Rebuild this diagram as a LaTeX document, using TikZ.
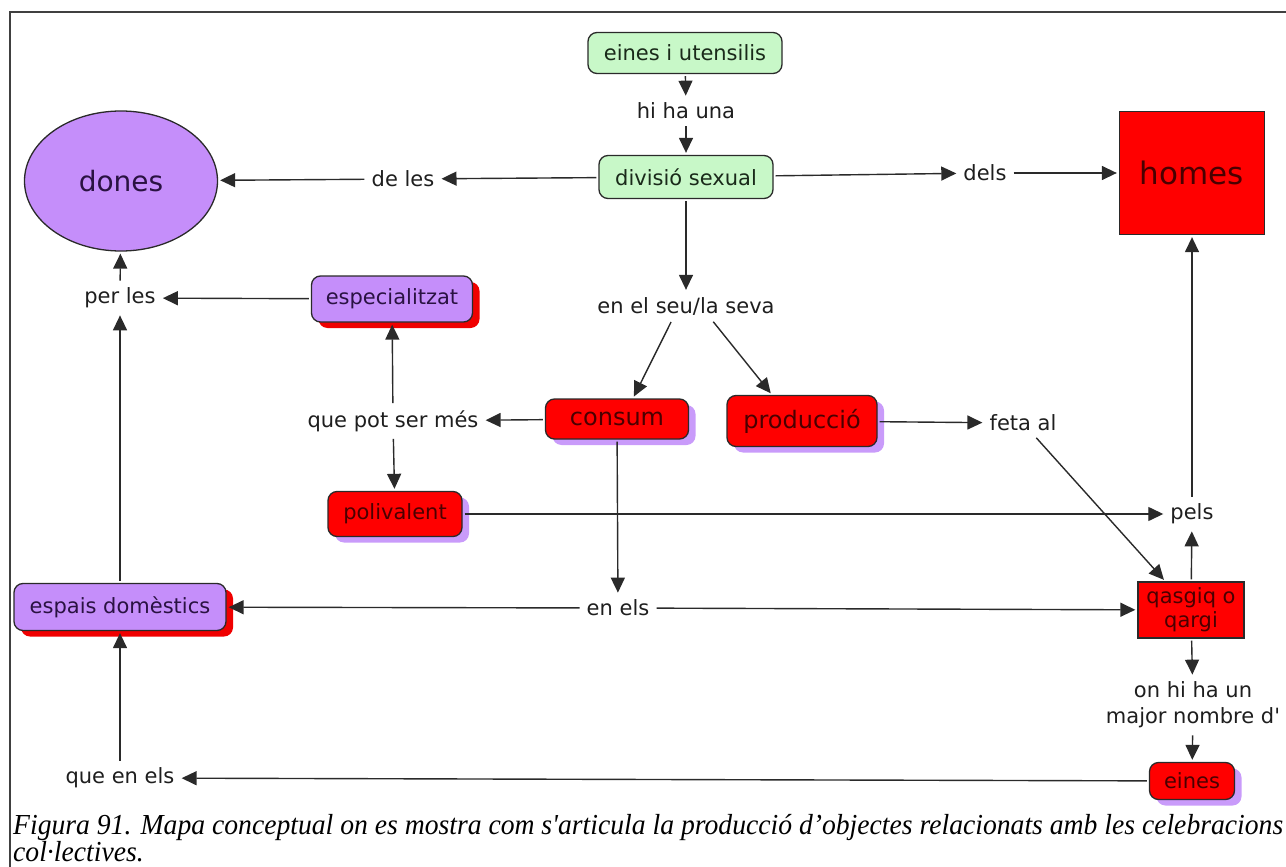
\documentclass[tikz,border=0pt]{standalone}
\usepackage{fontspec}
\setmainfont{DejaVu Sans}
\newfontfamily\capfont{Liberation Serif}
\usetikzlibrary{arrows.meta,shapes.geometric,shadows}

\definecolor{mapgreen}{HTML}{C8F8C8}
\definecolor{mappurple}{HTML}{C58EFA}
\definecolor{mapred}{HTML}{FF0000}
\definecolor{shpurple}{HTML}{C99BFA}
\definecolor{shred}{HTML}{F00000}
\definecolor{edgecol}{HTML}{2A2A2A}
\definecolor{redtext}{HTML}{4A0000}
\definecolor{purpletext}{HTML}{2A1242}
\definecolor{greentext}{HTML}{1A2A1A}
\definecolor{lbltext}{HTML}{1E1E1E}

\newsavebox{\capbox}
\newcommand{\capstyle}{\capfont\itshape\fontsize{29}{29}\selectfont}

\begin{document}
\sbox{\capbox}{\capstyle Figura 91. Mapa conceptual on es mostra com s\textquotesingle articula la producció d’objectes relacionats amb les celebracions}%
\pgfmathsetmacro{\capscale}{1270/\wd\capbox}%
\begin{tikzpicture}[x=1pt,y=-1pt,
  basefont/.style={font=\fontsize{21}{25}\selectfont},
  concept/.style={basefont, draw=edgecol, line width=1.3pt, inner sep=2pt},
  greenbox/.style={concept, rounded corners=9pt, fill=mapgreen, text=greentext},
  purplebox/.style={concept, rounded corners=9pt, fill=mappurple, text=purpletext,
    drop shadow={shadow xshift=7pt, shadow yshift=-6pt, fill=shred, opacity=1}},
  redbox/.style={concept, rounded corners=9pt, fill=mapred, text=redtext,
    drop shadow={shadow xshift=7pt, shadow yshift=-6pt, fill=shpurple, opacity=1}},
  redrect/.style={concept, fill=mapred, text=redtext},
  lbl/.style={basefont, text=lbltext, inner sep=5pt, align=center},
  arr/.style={draw=edgecol, line width=1.4pt, -{Triangle[length=15pt,width=14pt]}, shorten >=2pt, shorten <=2pt}
]
\useasboundingbox (0,0) rectangle (1286,867);

% page frame
\draw[line width=2pt, black!75] (10,867) -- (10,12) -- (1286,12);

% concepts
\node[greenbox, minimum width=194pt, minimum height=41pt] (eu) at (685,53) {eines i utensilis};
\node[greenbox, minimum width=174pt, minimum height=43pt] (dv) at (686,177) {divisió sexual};
\node[ellipse, draw=edgecol, line width=1.3pt, fill=mappurple, text=purpletext,
      minimum width=193pt, minimum height=140pt, font=\fontsize{28}{32}\selectfont] (dn) at (121,181) {dones};
\node[redrect, minimum width=145pt, minimum height=123pt, font=\fontsize{31}{35}\selectfont] (hm) at (1192,173) {homes};
\node[redbox, minimum width=143pt, minimum height=40pt, font=\fontsize{24}{28}\selectfont] (cs) at (617,419) {consum};
\node[redbox, minimum width=150pt, minimum height=51pt, font=\fontsize{24}{28}\selectfont] (pr) at (802,421) {producció};
\node[purplebox, minimum width=161pt, minimum height=46pt] (sp) at (392,299) {especialitzat};
\node[redbox, minimum width=134pt, minimum height=45pt] (pv) at (395,514) {polivalent};
\node[purplebox, minimum width=212pt, minimum height=47pt] (ed) at (120,607) {espais domèstics};
\node[redrect, minimum width=106pt, minimum height=56pt, align=center,
      font=\fontsize{21}{24}\selectfont] (qq) at (1191,610) {qasgiq o\\qargi};
\node[redbox, minimum width=85pt, minimum height=37pt] (ei) at (1192,781) {eines};

% linking phrases
\node[lbl] (hh) at (686,111) {hi ha una};
\node[lbl] (dl) at (403,179) {de les};
\node[lbl] (ds) at (985,173) {dels};
\node[lbl] (sv) at (686,306) {en el seu/la seva};
\node[lbl] (qp) at (393,421) {que pot ser més};
\node[lbl] (pl) at (120,298) {per les};
\node[lbl] (ee) at (618,608) {en els};
\node[lbl] (pe) at (1192,514) {pels};
\node[lbl] (fa) at (1023,423) {feta al};
\node[lbl, font=\fontsize{21}{26}\selectfont] (oh) at (1193,705) {on hi ha un\\major nombre d\textquotesingle};
\node[lbl] (qe) at (120,778) {que en els};

% connectors
\draw[arr] (eu) -- (hh);
\draw[arr] (hh) -- (dv);
\draw[arr] (dv) -- (dl);
\draw[arr] (dl) -- (dn);
\draw[arr] (dv) -- (ds);
\draw[arr] (ds) -- (hm);
\draw[arr] (dv) -- (sv);
\draw[arr] ([xshift=-14pt]sv.south) -- ([xshift=16pt]cs.north);
\draw[arr] ([xshift=26pt]sv.south) -- ([xshift=-30pt]pr.north);
\draw[arr] (cs) -- (qp);
\draw[arr] (qp) -- (sp);
\draw[arr] (qp) -- (pv);
\draw[arr] (sp) -- (pl);
\draw[arr] (pl) -- (dn);
\draw[arr] (ed) -- (pl);
\draw[arr] (cs) -- (ee);
\draw[arr] (ee) -- (ed);
\draw[arr] (ee) -- (qq);
\draw[arr] (pv) -- (pe);
\draw[arr] (qq) -- (pe);
\draw[arr] (pe) -- (hm);
\draw[arr] (pr) -- (fa);
\draw[arr] (fa) -- (qq);
\draw[arr] (qq) -- (oh);
\draw[arr] (oh) -- (ei);
\draw[arr] (ei) -- (qe);
\draw[arr] (qe) -- (ed);

% caption
\node[anchor=base west, inner sep=0pt] (cap1) at (13,834) {\scalebox{\capscale}[1]{\usebox{\capbox}}};
\node[anchor=base west, inner sep=0pt] (cap2) at (13,861) {\scalebox{\capscale}[1]{\capstyle col·lectives.}};
\end{tikzpicture}
\end{document}
